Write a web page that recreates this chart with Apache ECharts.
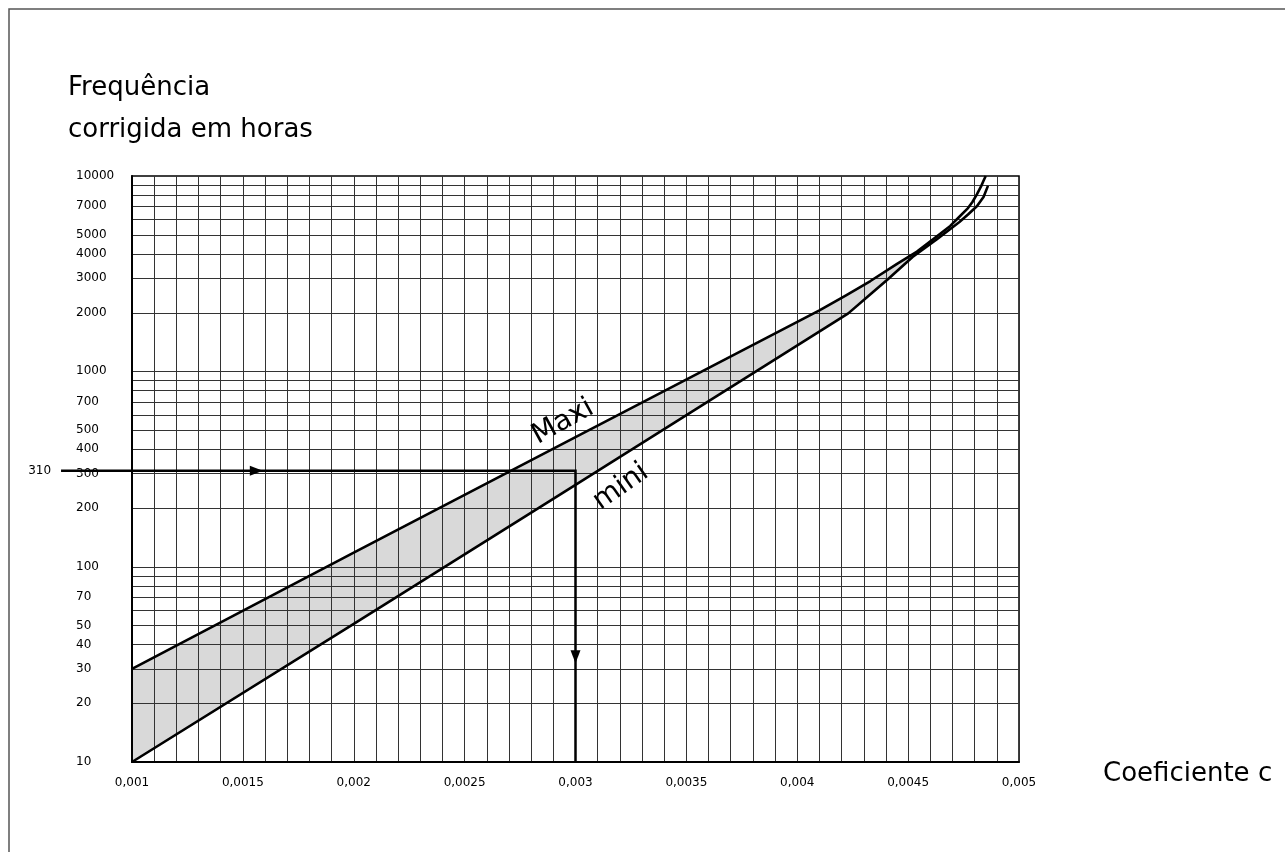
<!DOCTYPE html>
<html>
<head>
<meta charset="utf-8">
<script src="https://cdn.jsdelivr.net/npm/echarts@6/dist/echarts.min.js"></script>
<style>
  html, body { margin: 0; padding: 0; background: #fff; }
  #chart { width: 1285px; height: 852px; }
</style>
</head>
<body>
<div id="chart"></div>
<script>
// Axis ticks and labels
const xTickValues = [0.001, 0.0015, 0.002, 0.0025, 0.003, 0.0035, 0.004, 0.0045, 0.005];
const xTickLabels = ['0,001', '0,0015', '0,002', '0,0025', '0,003', '0,0035', '0,004', '0,0045', '0,005'];
const yTickValues = [10, 20, 30, 40, 50, 70, 100, 200, 300, 400, 500, 700, 1000, 2000, 3000, 4000, 5000, 7000, 10000];
const yGridValues = [20, 30, 40, 50, 60, 70, 80, 90, 100,
                     200, 300, 400, 500, 600, 700, 800, 900, 1000,
                     2000, 3000, 4000, 5000, 6000, 7000, 8000, 9000];

// Upper ("Maxi") and lower ("mini") limit curves: [coefficient c, hours]
const maxiCurve = [[0.001, 30], [0.002, 118], [0.003, 460], [0.0041, 2050], [0.00422, 2450],
                   [0.00433, 2900], [0.00445, 3550], [0.00454, 4100], [0.00463, 4920],
                   [0.00469, 5550], [0.00473, 6170], [0.00477, 6850], [0.00479, 7360],
                   [0.00481, 8050], [0.00483, 8900], [0.00484, 9450], [0.00485, 10000]];
const miniCurve = [[0.001, 10], [0.002, 51], [0.003, 262], [0.00423, 1980], [0.00433, 2480],
                   [0.00441, 2970], [0.00452, 3850], [0.00463, 4750], [0.00468, 5250],
                   [0.00473, 5800], [0.00477, 6350], [0.00481, 7000], [0.00484, 7800],
                   [0.00486, 8900]];

// Worked example: 310 hours read across to c = 0,003
const guidePath = [[0.00068, 310], [0.003, 310], [0.003, 10]];
const guideLabel = '310';

const FILL_END = 0.00463;          // band is shaded up to where the curves meet
const GUIDE_ARROW_X = 0.00159;     // arrowhead on the horizontal leg
const GUIDE_ARROW_Y = 32;          // arrowhead on the vertical leg
const GRID = '#333';
const FONT = '"DejaVu Sans", "Liberation Sans", sans-serif';

const chart = echarts.init(document.getElementById('chart'), null, { renderer: 'canvas' });

chart.setOption({
  animation: false,
  backgroundColor: '#fff',
  grid: {
    left: 132, top: 176, width: 887, height: 586,
    show: true, borderColor: '#000', borderWidth: 1.5, backgroundColor: 'transparent'
  },
  xAxis: {
    type: 'value', min: 0.001, max: 0.005, interval: 0.0005, z: 3,
    axisLine: { show: true, onZero: false, lineStyle: { color: '#000', width: 2 } },
    axisTick: { show: false },
    axisLabel: {
      showMinLabel: true, showMaxLabel: true, margin: 15,
      fontSize: 12, fontFamily: FONT, color: '#000',
      formatter: v => {
        const i = xTickValues.findIndex(t => Math.abs(t - v) < 1e-9);
        return i >= 0 ? xTickLabels[i] : '';
      }
    },
    splitLine: { show: true, lineStyle: { color: GRID, width: 1 } },
    minorTick: { show: false, splitNumber: 5 },
    minorSplitLine: { show: true, lineStyle: { color: GRID, width: 1 } }
  },
  yAxis: {
    type: 'log', logBase: 10, min: 10, max: 10000, z: 3,
    axisLine: { show: true, lineStyle: { color: '#000', width: 2 } },
    axisTick: { show: false },
    axisLabel: {
      customValues: yTickValues,
      formatter: v => String(Math.round(v)),
      align: 'left', margin: 56,
      fontSize: 12, fontFamily: FONT, color: '#000'
    },
    splitLine: { show: false }
  },
  graphic: [
    { type: 'rect', silent: true, z: 0,
      shape: { x: 9, y: 9, width: 1300, height: 900 },
      style: { fill: 'none', stroke: '#555', lineWidth: 1.5 } },
    { type: 'text', x: 68, y: 88,
      style: { text: 'Frequência', font: '26px ' + FONT, fill: '#000', align: 'left', verticalAlign: 'middle' } },
    { type: 'text', x: 68, y: 130,
      style: { text: 'corrigida em horas', font: '26px ' + FONT, fill: '#000', align: 'left', verticalAlign: 'middle' } },
    { type: 'text', x: 1103, y: 774,
      style: { text: 'Coeficiente c', font: '26px ' + FONT, fill: '#000', align: 'left', verticalAlign: 'middle' } },
    { type: 'text', x: 563, y: 422, rotation: 29 * Math.PI / 180, z: 10,
      style: { text: 'Maxi', font: '28px ' + FONT, fill: '#000', align: 'center', verticalAlign: 'middle' } },
    { type: 'text', x: 621, y: 487, rotation: 35 * Math.PI / 180, z: 10,
      style: { text: 'mini', font: '28px ' + FONT, fill: '#000', align: 'center', verticalAlign: 'middle' } }
  ],
  series: [
    {
      // shaded band between the two limits
      type: 'custom', z: 1, silent: true,
      data: [[0.001, 10]],
      renderItem: (params, api) => {
        const upper = maxiCurve.filter(p => p[0] <= FILL_END + 1e-9).map(p => api.coord(p));
        const lower = miniCurve.filter(p => p[0] <= FILL_END + 1e-9).map(p => api.coord(p)).reverse();
        return { type: 'polygon', shape: { points: upper.concat(lower) }, style: { fill: '#d9d9d9' } };
      }
    },
    {
      // horizontal log grid lines (1..9 per decade)
      type: 'custom', z: 3, silent: true,
      data: yGridValues.map(v => [0.001, v]),
      renderItem: (params, api) => {
        const cs = params.coordSys;
        const y = Math.round(api.coord([0.001, api.value(1)])[1]) + 0.5;
        return { type: 'line', shape: { x1: cs.x, y1: y, x2: cs.x + cs.width, y2: y },
                 style: { stroke: GRID, lineWidth: 1 } };
      }
    },
    {
      name: 'Maxi', type: 'line', z: 5, silent: true,
      data: maxiCurve, showSymbol: false, smooth: false,
      lineStyle: { color: '#000', width: 2.6, join: 'round' }
    },
    {
      name: 'mini', type: 'line', z: 5, silent: true,
      data: miniCurve, showSymbol: false, smooth: false,
      lineStyle: { color: '#000', width: 2.6, join: 'round' }
    },
    {
      // worked-example guide with arrows
      type: 'custom', z: 6, silent: true,
      data: [[0.003, 310]],
      renderItem: (params, api) => {
        const pts = guidePath.map(p => api.coord(p));
        const ax = api.coord([GUIDE_ARROW_X, guidePath[0][1]]);
        const ay = api.coord([guidePath[1][0], GUIDE_ARROW_Y]);
        return {
          type: 'group',
          children: [
            { type: 'polyline', shape: { points: pts },
              style: { stroke: '#000', lineWidth: 2.5, fill: null } },
            { type: 'polygon',
              shape: { points: [[ax[0], ax[1]], [ax[0] - 13, ax[1] - 5], [ax[0] - 13, ax[1] + 5]] },
              style: { fill: '#000' } },
            { type: 'polygon',
              shape: { points: [[ay[0], ay[1]], [ay[0] - 5, ay[1] - 13], [ay[0] + 5, ay[1] - 13]] },
              style: { fill: '#000' } },
            { type: 'text', x: pts[0][0] - 10, y: pts[0][1],
              style: { text: guideLabel, font: '12px ' + FONT, fill: '#000', align: 'right', verticalAlign: 'middle' } }
          ]
        };
      }
    }
  ]
});
</script>
</body>
</html>
